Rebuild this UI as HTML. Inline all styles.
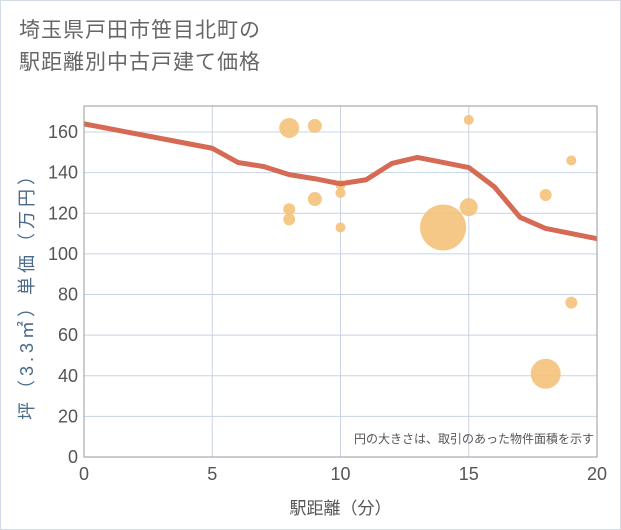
<!DOCTYPE html>
<html><head><meta charset="utf-8"><style>
body{margin:0;background:#fff;font-family:"Liberation Sans","Noto Sans CJK JP",sans-serif;}
#wrap{position:relative;width:619px;height:528px;border:1px solid #d5dbe3;}
#title{position:absolute;left:18px;top:14px;font-size:21px;line-height:32px;color:#666;letter-spacing:1px;}
</style></head><body>
<div id="wrap">
<div id="title">埼玉県戸田市笹目北町の<br>駅距離別中古戸建て価格</div>
<svg id="svg" width="621" height="530" style="position:absolute;left:-1px;top:-1px"></svg>
</div>
<script>
const xTicks=[0,5,10,15,20];
const yTicks=[0,20,40,60,80,100,120,140,160];
const lineX=[0,5,6,7,8,9,10,11,12,13,14,15,16,17,18,19,20];
const lineY=[164,152,145,143,139,137,134.5,136.5,144.5,147.5,145,142.5,133,118,112.5,110,107.5];
const bubX=[8,9,15,19,10,10,8,8,9,10,14,15,18,19,18];
const bubY=[162,163,166,146,134,130,122,117,127,113,113,123,129,76,41];
const bubR=[10,7,5,5,5,5,6,6,7,5,23,9,6,6,15];
const L=84,R=597,T=106,B=457;
const sx=v=>L+(R-L)*v/20, sy=v=>B-(B-132)*v/160;
const svg=document.getElementById('svg');const NS='http://www.w3.org/2000/svg';
function mk(t,a){const e=document.createElementNS(NS,t);for(const k in a)e.setAttribute(k,a[k]);svg.appendChild(e);return e;}
const bg=mk('rect',{x:L,y:T,width:R-L,height:B-T,fill:'#fff',stroke:'#999','stroke-width':1});


yTicks.forEach(v=>{const l=mk('line',{x1:L,x2:R,y1:sy(v),y2:sy(v),stroke:'#c8d4e6'});


const t=mk('text',{x:L-6,y:sy(v)+6,'text-anchor':'end','font-size':18,fill:'#555'});t.textContent=v;

});
xTicks.forEach(v=>{const l=mk('line',{x1:sx(v),x2:sx(v),y1:T,y2:B,stroke:'#c8d4e6'});


const t=mk('text',{x:sx(v),y:B+23,'text-anchor':'middle','font-size':18,fill:'#555'});t.textContent=v;

});
bubX.forEach((x,i)=>{const c=mk('circle',{cx:sx(x),cy:sy(bubY[i]),r:bubR[i],fill:'#f4c27a','fill-opacity':0.9});

});
const p=mk('polyline',{points:lineX.map((x,i)=>sx(x)+','+sy(lineY[i])).join(' '),fill:'none',stroke:'#d66b55','stroke-width':5,'stroke-linejoin':'round'});


mk('rect',{x:L,y:T,width:R-L,height:B-T,fill:'none',stroke:'#999'});
const note=mk('text',{x:R-3,y:443,'text-anchor':'end','font-size':12,fill:'#555'});note.textContent='円の大きさは、取引のあった物件面積を示す';


const xt=mk('text',{x:(L+R)/2,y:514,'text-anchor':'middle','font-size':17,fill:'#555'});xt.textContent='駅距離（分）';


const yt=mk('text',{x:0,y:0,'text-anchor':'middle','font-size':18,fill:'#4a6a8a','letter-spacing':'4px',transform:'translate(33,'+((T+B)/2+10)+') rotate(-90)'});yt.textContent='坪（3.3㎡）単価（万円）';


</script>
</body></html>
